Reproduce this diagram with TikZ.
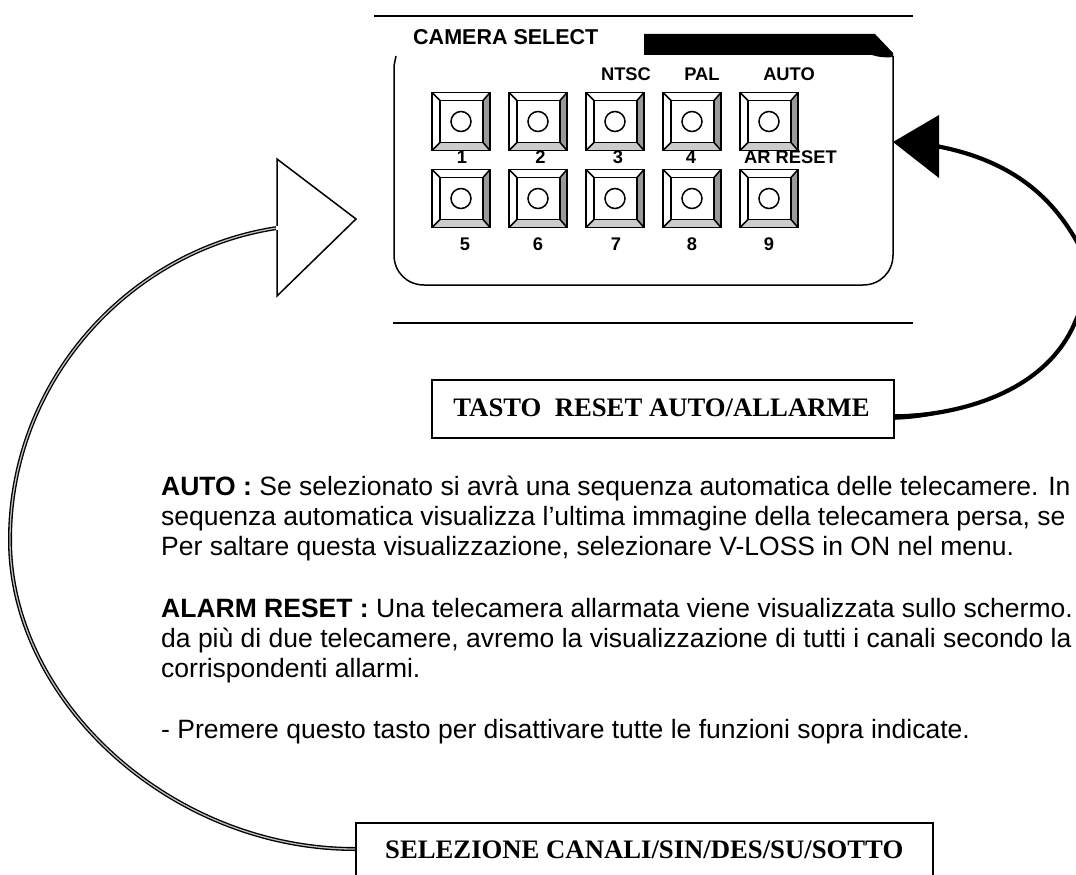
\documentclass[tikz,border=0pt]{standalone}
\usepackage{fontspec}
\setmainfont{Liberation Sans}
\newfontfamily\serifb{Liberation Serif}
\definecolor{btngray}{gray}{0.6}
\definecolor{btnlight}{gray}{0.8}
\tikzset{
  lbl/.style={font=\fontsize{18.3}{20}\selectfont\bfseries, inner sep=0pt, anchor=base},
  body/.style={font=\fontsize{26.5}{30}\selectfont, inner sep=0pt, anchor=base west},
  capbox/.style={draw=black, line width=1.6pt, fill=white, inner sep=0pt},
  captxt/.style={inner sep=0pt, font=\fontsize{26.7}{30}\selectfont\serifb\bfseries},
  keyline/.style={line width=1.5pt, black, line join=miter},
  rulestyle/.style={line width=1.6pt, black}
}
\newcommand{\keybtn}[2]{%
  \begin{scope}[shift={(#1,#2)}]
    \fill[btngray] (58,0) -- (58,58) -- (51,51) -- (51,8) -- cycle;
    \fill[btnlight] (0,58) -- (58,58) -- (51,50) -- (8,50) -- cycle;
    \draw[keyline] (0,0) rectangle (58,58);
    \draw[keyline] (8,8) rectangle (51,50);
    \draw[keyline] (0,0) -- (8,8) (58,0) -- (51,8) (0,58) -- (8,50) (58,58) -- (51,50);
    \draw[line width=1.5pt] (29,29) circle (10);
  \end{scope}}
\begin{document}
\begin{tikzpicture}[x=1pt,y=-1pt]
\useasboundingbox (0,0) rectangle (1076,875);
\clip (0,0) rectangle (1076,875);
% rules
\coordinate (r1a) at (374,16); \coordinate (r1b) at (913,16);
\coordinate (r2a) at (393,323); \coordinate (r2b) at (913,323);
\draw[rulestyle] (r1a) -- (r1b);
\draw[rulestyle] (r2a) -- (r2b);
% panel
\draw[line width=1.5pt] (396,56) -- (394,66) -- (394,255) .. controls (394,272) and (407,285) .. (424,285) -- (863,285) .. controls (880,285) and (893,272) .. (893,255) -- (893,56);
\fill[black] (644,34) -- (875,34) -- (893,53) -- (893,57) .. controls (885,58) and (878,57) .. (872,55) -- (644,55) -- cycle;
\node[lbl, anchor=base west, font=\fontsize{21.5}{24}\selectfont\bfseries] (title) at (413,45) {CAMERA SELECT};
% buttons
\keybtn{432}{92.5}\keybtn{509}{92.5}\keybtn{586}{92.5}\keybtn{663}{92.5}\keybtn{740}{92.5}
\keybtn{432}{169.5}\keybtn{509}{169.5}\keybtn{586}{169.5}\keybtn{663}{169.5}\keybtn{740}{169.5}
\node[lbl] (l1) at (462,163) {1};
\node[lbl] (l2) at (540.5,163) {2};
\node[lbl] (l3) at (618,163) {3};
\node[lbl] (l4) at (691,163) {4};
\node[lbl] (lr) at (790.5,163) {AR RESET};
\node[lbl] (l5) at (465,250) {5};
\node[lbl] (l6) at (538,250) {6};
\node[lbl] (l7) at (616,250) {7};
\node[lbl] (l8) at (692,250) {8};
\node[lbl] (l9) at (769,250) {9};
\node[lbl] (ln) at (626,81) {NTSC};
\node[lbl] (lp) at (702,81) {PAL};
\node[lbl] (la) at (789,81) {AUTO};
% caption boxes
\node[capbox, minimum width=462pt, minimum height=58.5pt] (tasto) at (663,409) {};
\node[captxt, anchor=base] (tastotxt) at (661.5,416) {TASTO\ \ RESET AUTO/ALLARME};
\node[capbox, minimum width=577pt, minimum height=70pt, anchor=north west] (sel) at (355,822) {};
\node[captxt, anchor=base west] (seltxt) at (385,858) {SELEZIONE CANALI/SIN/DES/SU/SOTTO};
% black arrow
\coordinate (bt) at (893,142);
\coordinate (bs) at (894,417);
\draw[line width=4.2pt] (bs) .. controls (975,414) and (1050,385) .. (1076,320) .. controls (1092,285) and (1092,268) .. (1076,240) .. controls (1050,195) and (1010,160) .. (936,146);
\fill[black] (894,414.2) .. controls (920,414) and (945,411) .. (972,404.4) .. controls (945,414) and (920,419) .. (894,419.8) -- cycle;
\fill[black] (bt) -- (939,115) -- (939,178) -- cycle;
% open arrow
\coordinate (wa) at (277,159); \coordinate (wb) at (277,296); \coordinate (wt) at (356,219);
\coordinate (os) at (355,849); \coordinate (oe) at (277,228);
\draw[line width=4pt] (oe) .. controls (130,250) and (10,380) .. (10,540) .. controls (10,700) and (170,849) .. (os);
\draw[line width=1.3pt, white!75!black] (oe) .. controls (130,250) and (10,380) .. (10,540) .. controls (10,700) and (170,849) .. (os);
\draw[line width=1.5pt, fill=white, line join=miter] (wa) -- (wt) -- (wb) -- cycle;
\fill[white] (275.5,225.8) rectangle (278.5,230);
% body text
\node[body] (t1) at (161,495) {\textbf{AUTO :} Se selezionato si avrà una sequenza automatica delle telecamere. In};
\node[body] (t2) at (161,525) {sequenza automatica visualizza l’ultima immagine della telecamera persa, se};
\node[body] (t3) at (161,555) {Per saltare questa visualizzazione, selezionare V-LOSS in ON nel menu.};
\node[body] (t4) at (161,617) {\textbf{ALARM RESET :} Una telecamera allarmata viene visualizzata sullo schermo.};
\node[body] (t5) at (161,647) {da più di due telecamere, avremo la visualizzazione di tutti i canali secondo la};
\node[body] (t6) at (161,677) {corrispondenti allarmi.};
\node[body] (t7) at (161,738) {- Premere questo tasto per disattivare tutte le funzioni sopra indicate.};
\end{tikzpicture}
\end{document}
